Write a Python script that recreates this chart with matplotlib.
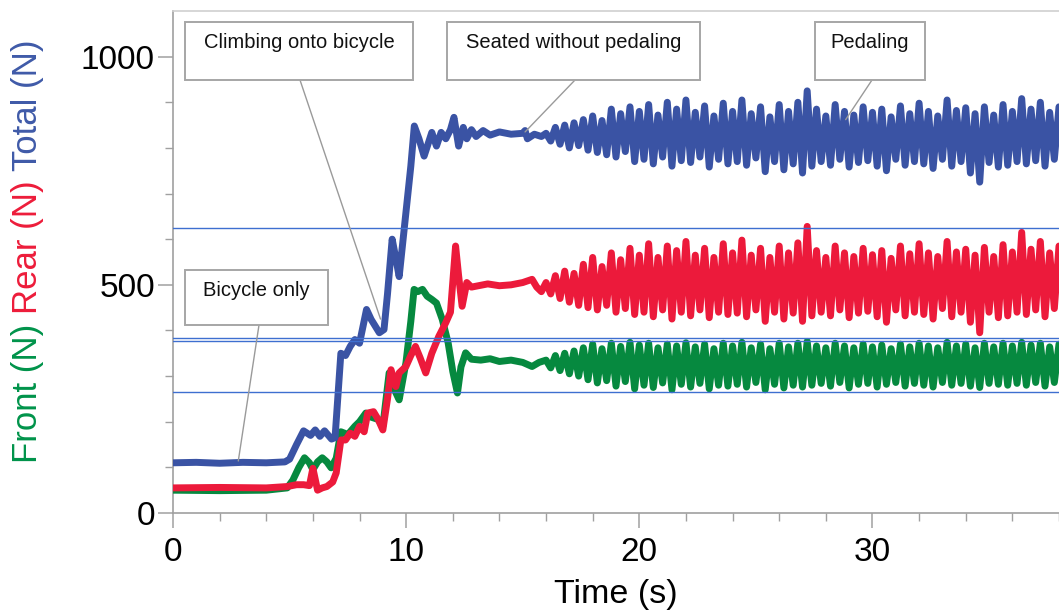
import numpy as np
import matplotlib
matplotlib.use("Agg")
import matplotlib.pyplot as plt
from matplotlib.patches import Rectangle

plt.rcParams['font.family'] = ['Liberation Sans', 'DejaVu Sans']

# ---------------- data ----------------
# early phase (irregular samples): time (s) and force (N)
t_total_early = [0, 1, 2, 3, 4, 4.8, 5.0, 5.3, 5.6, 5.9, 6.1, 6.3, 6.5, 6.8, 6.95, 7.2, 7.4, 7.6,
                 7.8, 8.0, 8.3, 8.5, 8.85, 9.05, 9.2, 9.4, 9.55, 9.7, 9.85, 10.0, 10.2, 10.35,
                 10.55, 10.77, 10.95, 11.1, 11.3, 11.5, 11.7, 11.9, 12.05, 12.25, 12.45, 12.6,
                 12.8, 13.0, 13.3, 13.6, 14.0, 14.5, 15.0, 15.1, 15.2, 15.5, 15.8]
total_early = [110, 111, 109, 111, 110, 112, 118, 150, 180, 170, 182, 168, 180, 162, 165, 350, 345,
               365, 380, 372, 446, 424, 395, 402, 480, 600, 560, 518, 590, 660, 760, 848, 820,
               782, 810, 834, 804, 834, 820, 840, 867, 804, 845, 820, 840, 825, 838, 828, 835,
               830, 832, 838, 820, 830, 825]

t_rear_early = [0, 2, 4, 4.9, 5.3, 5.6, 5.85, 6.0, 6.2, 6.4, 6.6, 6.85, 7.0, 7.2, 7.4, 7.6, 7.8,
                8.0, 8.2, 8.35, 8.6, 8.8, 9.0, 9.2, 9.35, 9.56, 9.7, 9.99, 10.2, 10.4, 10.6,
                10.84, 11.1, 11.4, 11.7, 11.9, 12.12, 12.25, 12.4, 12.6, 12.8, 13.0, 13.5, 14.0,
                14.5, 15.0, 15.4, 15.6, 15.8]
rear_early = [55, 56, 55, 58, 62, 62, 60, 98, 50, 55, 58, 68, 88, 160, 160, 175, 168, 190, 178,
              219, 222, 205, 182, 250, 314, 277, 307, 321, 345, 365, 340, 307, 350, 387, 417,
              440, 585, 520, 453, 505, 495, 497, 502, 498, 500, 505, 512, 495, 485]

t_front_early = [0, 2, 4, 4.9, 5.14, 5.4, 5.64, 5.85, 6.0, 6.2, 6.4, 6.6, 6.78, 7.0, 7.2, 7.5,
                 7.8, 8.0, 8.27, 8.5, 8.8, 9.0, 9.27, 9.5, 9.7, 9.99, 10.2, 10.34, 10.5, 10.7,
                 10.9, 11.1, 11.3, 11.55, 11.8, 12.0, 12.2, 12.35, 12.55, 12.8, 13.2, 13.6,
                 14.0, 14.5, 15.0, 15.4, 15.7]
front_early = [50, 49, 50, 55, 72, 100, 121, 110, 95, 112, 121, 112, 99, 120, 178, 172, 190,
               200, 219, 210, 205, 190, 307, 270, 248, 329, 420, 490, 485, 490, 475, 468, 460,
               424, 373, 310, 263, 320, 351, 337, 335, 338, 332, 335, 330, 321, 330]

# pedaling phase: samples every 0.2 s from 16.0 s to 38.0 s
total_pedal = [832, 815, 845, 808, 850, 800, 855, 805, 862, 795,
               870, 790, 860, 785, 885, 780, 875, 792, 890, 770,
               880, 775, 895, 765, 872, 780, 900, 760, 885, 772,
               905, 768, 878, 780, 892, 758, 870, 775, 898, 765,
               880, 770, 905, 762, 875, 778, 890, 748, 868, 770,
               895, 752, 880, 765, 900, 745, 925, 760, 885, 770,
               870, 762, 895, 775, 880, 758, 872, 768, 890, 772,
               878, 760, 885, 750, 868, 775, 892, 762, 875, 770,
               898, 765, 880, 755, 870, 775, 905, 760, 882, 770,
               888, 745, 875, 725, 890, 768, 872, 758, 895, 762,
               880, 770, 908, 765, 885, 772, 900, 760, 878, 775,
               890]
rear_pedal = [505, 480, 520, 470, 530, 462, 525, 455, 545, 450,
              560, 445, 540, 455, 570, 440, 555, 448, 580, 435,
              565, 440, 590, 430, 560, 445, 585, 425, 575, 440,
              595, 432, 565, 445, 580, 428, 560, 440, 590, 435,
              570, 438, 598, 430, 565, 445, 580, 420, 560, 440,
              585, 425, 570, 438, 592, 420, 628, 432, 575, 440,
              560, 432, 585, 445, 570, 428, 562, 438, 580, 442,
              566, 430, 575, 418, 558, 445, 585, 432, 568, 440,
              590, 435, 570, 425, 562, 448, 595, 430, 572, 440,
              578, 418, 565, 395, 582, 440, 562, 428, 588, 432,
              572, 440, 615, 435, 578, 445, 595, 430, 570, 448,
              585]
front_pedal = [335, 318, 345, 312, 350, 305, 355, 300, 362, 292,
               370, 285, 360, 290, 372, 278, 365, 288, 374, 272,
               368, 280, 372, 275, 362, 285, 370, 270, 366, 282,
               373, 276, 364, 284, 370, 272, 360, 280, 372, 278,
               366, 282, 374, 276, 362, 286, 370, 270, 360, 282,
               372, 274, 364, 280, 372, 276, 376, 280, 366, 284,
               362, 278, 372, 286, 366, 274, 362, 282, 370, 284,
               364, 276, 368, 282, 360, 286, 370, 278, 364, 284,
               372, 280, 366, 276, 362, 286, 374, 280, 366, 284,
               370, 278, 362, 275, 372, 284, 364, 282, 372, 280,
               366, 284, 374, 280, 368, 286, 372, 278, 364, 286,
               370]
pedal_start, pedal_end = 16.0, 38.0

# thin horizontal reference lines (N)
ref_levels = [624, 383, 377, 265]

xticks_major = [0, 10, 20, 30]
yticks_major = [0, 500, 1000]

# annotation labels and the data points they point to
ann_labels = ["Climbing onto bicycle", "Seated without pedaling", "Pedaling", "Bicycle only"]
ann_targets = [(8.9, 425), (15.1, 835), (28.85, 862), (2.8, 114)]

# ---------------- figure ----------------
W, H = 1059, 610
fig = plt.figure(figsize=(W / 100, H / 100), dpi=100)
ax_left, ax_bottom, ax_top = 173, 513, 11
ax = fig.add_axes([ax_left / W, (H - ax_bottom) / H, 1 - ax_left / W, (ax_bottom - ax_top) / H])

c_total, c_rear, c_front = '#3A53A4', '#EC1A3B', '#06893F'
lw = 5.0


def series(t_early, v_early, v_pedal):
    tp = np.linspace(pedal_start, pedal_end, len(v_pedal))
    return np.concatenate([t_early, tp]), np.concatenate([v_early, v_pedal])


for te, ve, vp, col, z in [(t_front_early, front_early, front_pedal, c_front, 3),
                           (t_rear_early, rear_early, rear_pedal, c_rear, 4),
                           (t_total_early, total_early, total_pedal, c_total, 5)]:
    tt, vv = series(te, ve, vp)
    ax.plot(tt, vv, color=col, lw=lw, solid_joinstyle='round', solid_capstyle='round', zorder=z)

for lvl in ref_levels:
    ax.axhline(lvl, color='#3E6FD0', lw=1.0, zorder=6)

ax.set_xlim(0, (W - ax_left) / 23.4)
ax.set_ylim(0, 1100)

gray = '#A0A0A0'
for s in ['left', 'bottom', 'top']:
    ax.spines[s].set_color(gray)
    ax.spines[s].set_linewidth(1.2)
ax.spines['right'].set_visible(False)
ax.spines['top'].set_color('#D0D0D0')

ax.set_xticks(xticks_major)
ax.set_xticks(np.arange(0, 40, 2), minor=True)
ax.set_yticks(yticks_major)
ax.set_yticks(np.arange(0, 1100, 100), minor=True)
ax.tick_params(which='major', direction='out', length=11, width=1.1, color=gray,
               labelsize=24, pad=2)
ax.tick_params(which='minor', direction='out', length=5.5, width=1.0, color=gray)
ax.tick_params(axis='x', which='major', pad=6)
ax.set_xlabel('Time (s)', fontsize=24.5, labelpad=8)

# multi-coloured rotated y label
ylab_fs = 25
t1 = fig.text(28 / W, (H - 463) / H, 'Front (N)', rotation=90, color='#00934A',
              fontsize=ylab_fs, ha='center', va='bottom')
t2 = ax.annotate('Rear (N)', xy=(0.5, 1), xycoords=t1, xytext=(0, 7), textcoords='offset points',
                 rotation=90, color='#ED1C3A', fontsize=ylab_fs, ha='center', va='bottom',
                 annotation_clip=False)
t3 = ax.annotate('Total (N)', xy=(0.5, 1), xycoords=t2, xytext=(0, 7), textcoords='offset points',
                 rotation=90, color='#3F5AA8', fontsize=ylab_fs, ha='center', va='bottom',
                 annotation_clip=False)

# annotation boxes (pixel layout)
boxes = [(185, 413, 22, 80, 300), (447, 700, 22, 80, 575), (815, 925, 22, 80, 872),
         (185, 328, 270, 325, 259)]
for (x0, x1, y0, y1, xc), lab, tgt in zip(boxes, ann_labels, ann_targets):
    fig.patches.append(Rectangle((x0 / W, (H - y1) / H), (x1 - x0) / W, (y1 - y0) / H,
                                 transform=fig.transFigure, facecolor='white',
                                 edgecolor='#A6A6A6', lw=1.4, zorder=10))
    fig.text((x0 + x1) / 2 / W, (H - (y0 + 21)) / H, lab, fontsize=14.5, ha='center',
             va='center', color='#111111', zorder=11)
    ax.annotate('', xy=tgt, xycoords='data', xytext=(xc / W, (H - y1) / H),
                textcoords='figure fraction',
                arrowprops=dict(arrowstyle='-', color='#9A9A9A', lw=1.0, shrinkA=0, shrinkB=0),
                zorder=9, annotation_clip=False)

fig.savefig('out.png', dpi=100)
